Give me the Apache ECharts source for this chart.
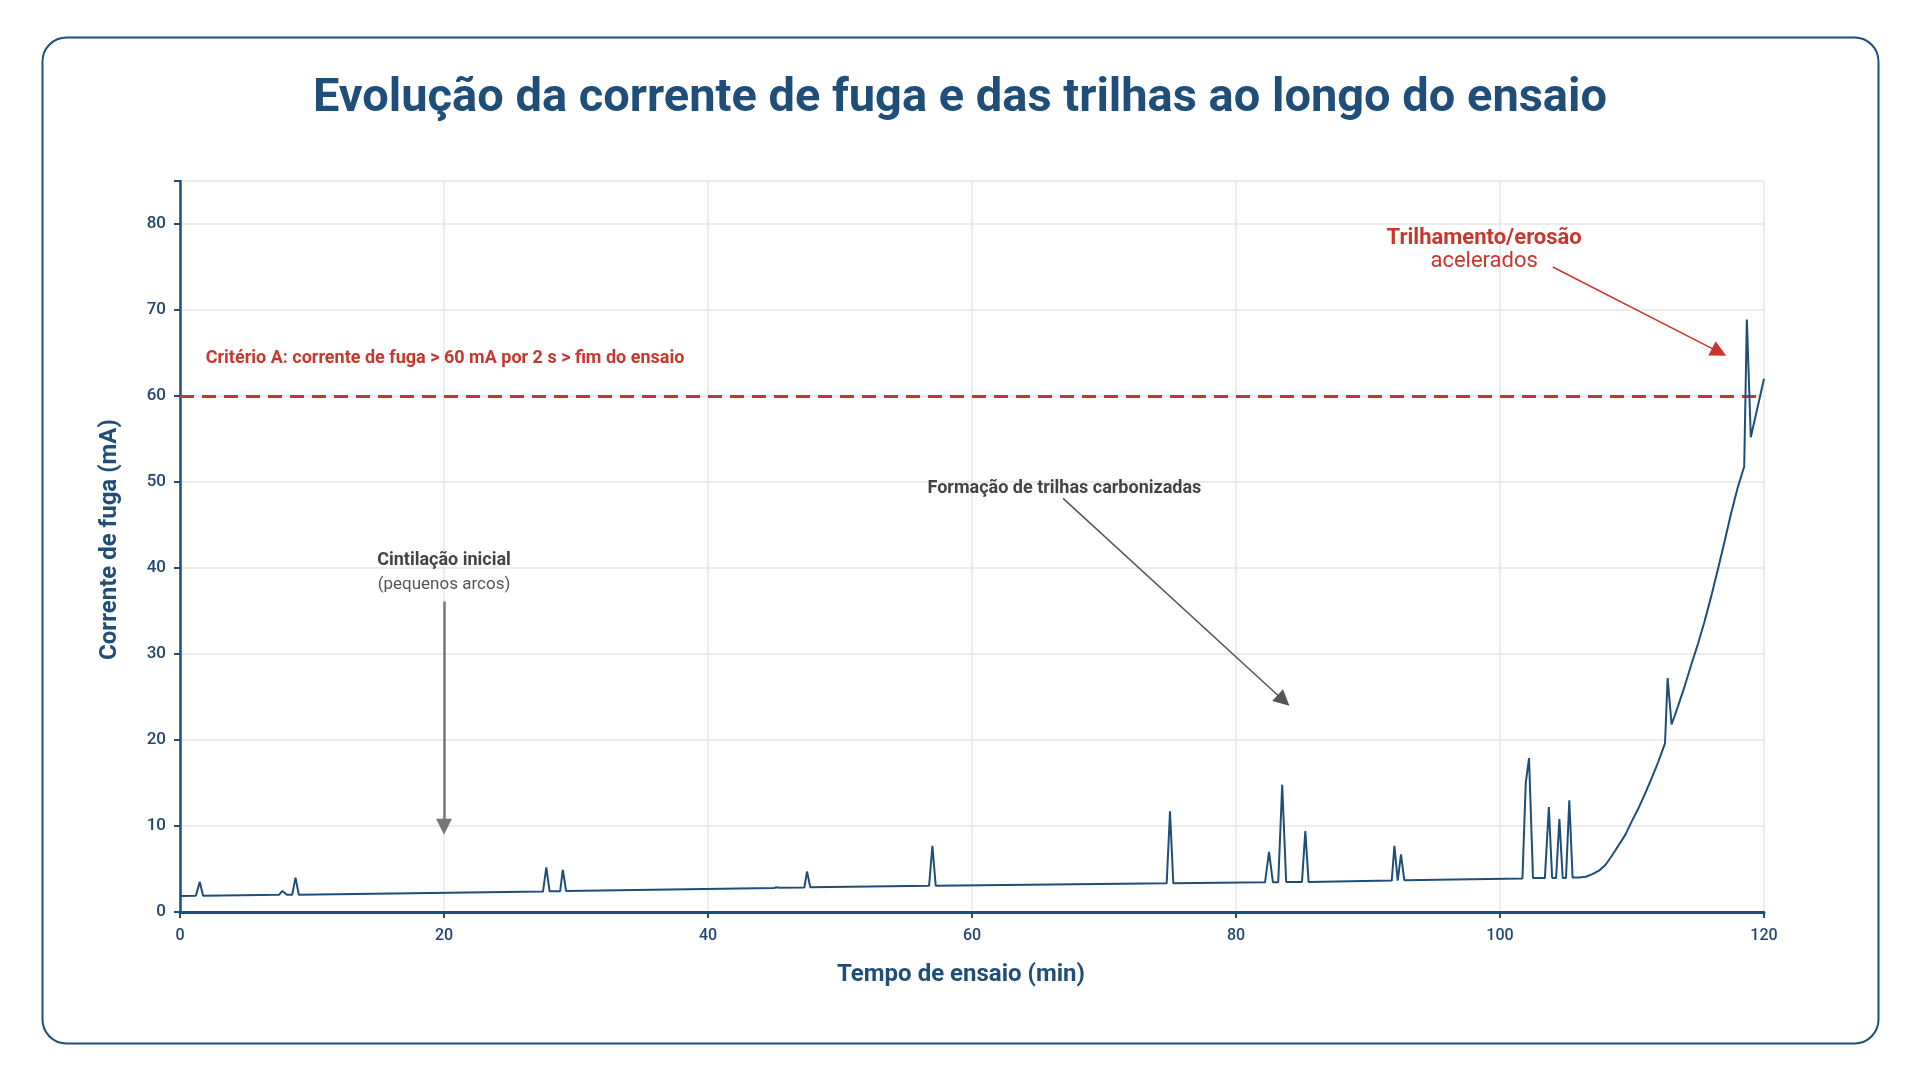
<!DOCTYPE html>
<html>
<head>
<meta charset="utf-8">
<title>Corrente de fuga</title>
<script src="https://cdn.jsdelivr.net/npm/echarts@6/dist/echarts.min.js"></script>
<style>
  html, body { margin: 0; padding: 0; background: #fff; }
  #chart { width: 1920px; height: 1080px; }
</style>
</head>
<body>
<div id="chart"></div>
<script>
  // tempo de ensaio (min) e corrente de fuga (mA)
  var tempo = [
    0, 1.2, 1.5, 1.75, 7.5, 7.75, 8.1, 8.5, 8.75, 9.0,
    27.5, 27.75, 28.0, 28.8, 29.0, 29.25, 45.0, 45.2, 45.4, 47.3,
    47.5, 47.75, 56.75, 57.0, 57.25, 74.75, 75.0, 75.25, 82.2, 82.5,
    82.8, 83.2, 83.5, 83.8, 85.0, 85.25, 85.5, 91.8, 92.0, 92.25,
    92.5, 92.75, 101.7, 101.95, 102.2, 102.5, 103.4, 103.7, 103.95, 104.25,
    104.5, 104.75, 105.0, 105.25, 105.5, 106.0, 106.5, 107.0, 107.5, 108.0,
    108.5, 109.0, 109.5, 110.0, 110.5, 111.0, 111.5, 112.0, 112.5, 112.7,
    113.0, 113.5, 114.0, 114.5, 115.0, 115.5, 116.0, 116.5, 117.0, 117.5,
    118.0, 118.5, 118.7, 119.0, 120.0
  ];
  var corrente = [
    1.85, 1.9, 3.5, 1.9, 2.0, 2.45, 2.0, 2.0, 4.0, 2.0,
    2.38, 5.2, 2.4, 2.42, 4.9, 2.45, 2.8, 2.87, 2.82, 2.85,
    4.7, 2.87, 3.05, 7.7, 3.05, 3.35, 11.7, 3.35, 3.45, 7.0,
    3.45, 3.45, 14.8, 3.5, 3.5, 9.4, 3.5, 3.65, 7.7, 3.65,
    6.7, 3.7, 3.9, 15.0, 17.9, 3.95, 3.95, 12.2, 3.95, 3.95,
    10.8, 3.95, 3.95, 13.0, 4.0, 4.0, 4.1, 4.4, 4.8, 5.5,
    6.6, 7.8, 9.0, 10.6, 12.1, 13.8, 15.6, 17.5, 19.6, 27.2,
    21.8, 24.0, 26.3, 28.8, 31.2, 33.8, 36.7, 39.8, 43.0, 46.3,
    49.3, 51.8, 68.9, 55.2, 62.0
  ];
  var limiteCriterioA = 60;
  var ticksX = [0, 20, 40, 60, 80, 100, 120];
  var ticksY = [0, 10, 20, 30, 40, 50, 60, 70, 80];

  var azul = '#1f4e79';
  var vermelho = '#c8372d';
  var cinza = '#444';

  var pontos = tempo.map(function (t, i) { return [t, corrente[i]]; });

  var chart = echarts.init(document.getElementById('chart'));

  var option = {
    animation: false,
    textStyle: { fontFamily: 'Roboto' },
    title: {
      text: 'Evolução da corrente de fuga e das trilhas ao longo do ensaio',
      left: 'center',
      top: 71,
      textStyle: { fontSize: 47, fontWeight: 'bold', color: azul, fontFamily: 'Roboto' }
    },
    graphic: [{
      type: 'rect',
      left: 40,
      top: 35,
      shape: { width: 1836, height: 1006, r: 24 },
      style: { fill: 'none', stroke: azul, lineWidth: 2 },
      silent: true
    }],
    grid: { left: 180, right: 156, top: 181, bottom: 168, containLabel: false },
    xAxis: {
      type: 'value',
      min: 0,
      max: 120,
      interval: 20,
      name: 'Tempo de ensaio (min)',
      nameLocation: 'middle',
      nameGap: 51,
      nameTextStyle: { fontSize: 24, fontWeight: 'bold', color: azul, padding: [0, 22, 0, 0] },
      axisLine: { show: true, lineStyle: { color: azul, width: 3 } },
      axisTick: { show: true, length: 6, lineStyle: { color: azul, width: 2 } },
      axisLabel: {
        margin: 16, fontSize: 16, fontWeight: 500, color: '#24466f',
        formatter: function (v) { return ticksX.indexOf(v) >= 0 ? String(v) : ''; }
      },
      splitLine: { show: true, lineStyle: { color: '#e6e6e6', width: 1.5 } }
    },
    yAxis: {
      type: 'value',
      min: 0,
      max: 85,
      interval: 10,
      name: 'Corrente de fuga (mA)',
      nameLocation: 'middle',
      nameGap: 58,
      nameTextStyle: { fontSize: 24, fontWeight: 'bold', color: azul, padding: [0, 0, 0, 14] },
      axisLine: { show: true, lineStyle: { color: azul, width: 2.5 } },
      axisTick: { show: true, length: 6, lineStyle: { color: azul, width: 2 } },
      axisLabel: {
        margin: 14, fontSize: 17, fontWeight: 500, color: '#24466f',
        formatter: function (v) { return ticksY.indexOf(v) >= 0 ? String(v) : ''; }
      },
      splitLine: { show: true, lineStyle: { color: '#e6e6e6', width: 1.5 } }
    },
    series: [
      {
        name: 'Corrente de fuga',
        type: 'line',
        data: pontos,
        showSymbol: false,
        symbol: 'none',
        lineStyle: { color: azul, width: 2 },
        z: 5,
        markLine: {
          silent: true,
          symbol: ['none', 'none'],
          label: { show: false },
          lineStyle: { color: vermelho, width: 3, type: [14, 8] },
          data: [{ yAxis: limiteCriterioA }]
        },
        markPoint: {
          silent: true,
          symbol: 'circle',
          symbolSize: 0,
          data: [
            {
              coord: [1.95, 64.4],
              label: {
                show: true, position: 'inside', align: 'left',
                formatter: 'Critério A: corrente de fuga > 60 mA por 2 s > fim do ensaio',
                fontSize: 18, fontWeight: 'bold', color: vermelho
              }
            },
            {
              coord: [20, 39.5],
              label: {
                show: true, position: 'inside', align: 'center',
                formatter: '{a|Cintilação inicial}\n{b|(pequenos arcos)}',
                rich: {
                  a: { fontSize: 18, fontWeight: 'bold', color: cinza, lineHeight: 24, align: 'center' },
                  b: { fontSize: 17, color: '#555', lineHeight: 24, align: 'center' }
                }
              }
            },
            {
              coord: [67.0, 49.3],
              label: {
                show: true, position: 'inside', align: 'center',
                formatter: 'Formação de trilhas carbonizadas',
                fontSize: 18, fontWeight: 'bold', color: cinza
              }
            },
            {
              coord: [98.8, 77.0],
              label: {
                show: true, position: 'inside', align: 'center',
                formatter: '{a|Trilhamento/erosão}\n{b|acelerados}',
                rich: {
                  a: { fontSize: 22, fontWeight: 'bold', color: vermelho, lineHeight: 23, align: 'center' },
                  b: { fontSize: 22, color: vermelho, lineHeight: 23, align: 'center' }
                }
              }
            }
          ]
        }
      },
      {
        // setas das anotacoes
        type: 'line',
        data: [],
        markLine: {
          silent: true,
          symbol: ['none', 'triangle'],
          symbolSize: 16,
          label: { show: false },
          data: [
            [{ coord: [20, 36.1] }, { coord: [20, 9.9], lineStyle: { color: '#777', width: 2.5, type: 'solid' } }],
            [{ coord: [66.9, 48.1] }, { coord: [83.6, 24.6], lineStyle: { color: '#555', width: 1.5, type: 'solid' } }],
            [{ coord: [104.0, 75.0] }, { coord: [116.6, 65.1], lineStyle: { color: vermelho, width: 1.5, type: 'solid' } }]
          ]
        }
      }
    ]
  };

  chart.setOption(option);
</script>
</body>
</html>
